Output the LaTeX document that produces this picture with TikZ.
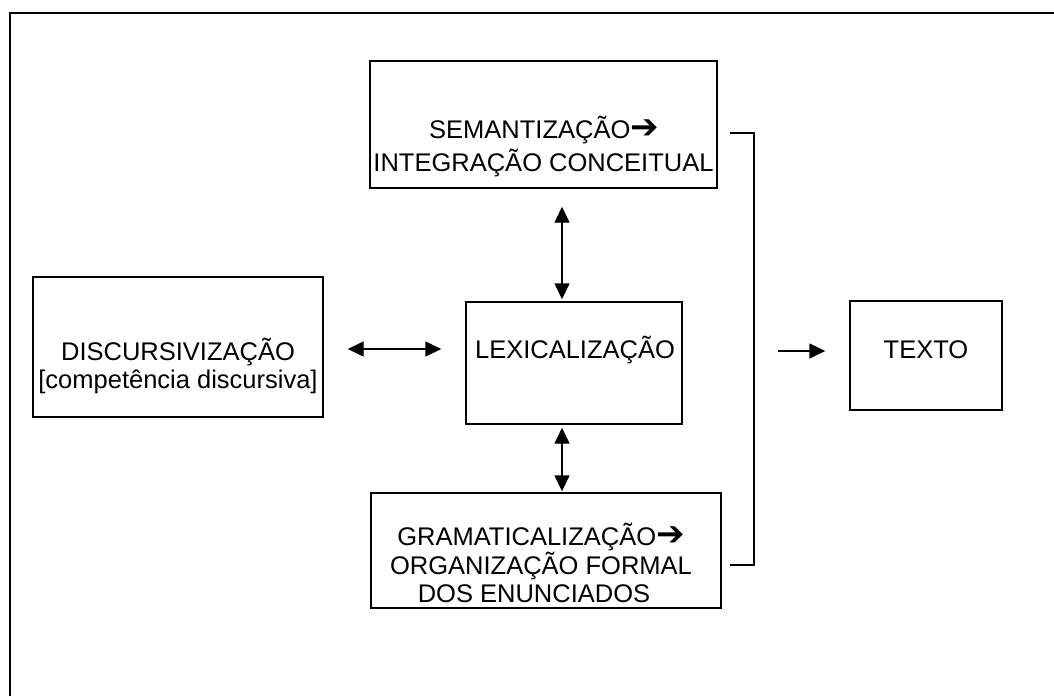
\documentclass[tikz,border=0pt]{standalone}
\usepackage{fontspec}
\setmainfont{Liberation Sans}
\newfontfamily\dvfont{DejaVu Sans}
\usetikzlibrary{arrows.meta}
\begin{document}
\begin{tikzpicture}[x=1pt,y=-1pt,
  box/.style={draw, line width=1.4pt, inner sep=0pt},
  txt/.style={inner sep=0pt, anchor=base, font=\fontsize{25.5}{30}\selectfont},
  arr/.style={line width=1.4pt, -{Triangle[length=16pt,width=15pt]}},
  darr/.style={line width=1.4pt, {Triangle[length=16pt,width=15pt]}-{Triangle[length=16pt,width=15pt]}},
  frame/.style={line width=2pt}]
\useasboundingbox (0,0) rectangle (1054,696);
\draw[frame] (10,696) -- (10,13) -- (1054,13);
% boxes
\node[box, minimum width=347pt, minimum height=127pt] (sem) at (543.5,124.5) {};
\node[box, minimum width=290pt, minimum height=140pt] (disc) at (178,347) {};
\node[box, minimum width=216pt, minimum height=122pt] (lex) at (574,363) {};
\node[box, minimum width=350pt, minimum height=115pt] (gram) at (546,550.5) {};
\node[box, minimum width=152pt, minimum height=109pt] (texto) at (926,355.5) {};
% texts
\node[txt] (sem1) at (544,138) {SEMANTIZAÇÃO{\dvfont\bfseries\fontsize{34}{30}\selectfont ➔}};
\node[txt] (sem2) at (543.5,171) {INTEGRAÇÃO CONCEITUAL};
\node[txt] (disc1) at (178,360) {DISCURSIVIZAÇÃO};
\node[txt] (disc2) at (178,388) {[competência discursiva]};
\node[txt] (lex1) at (575,358) {LEXICALIZAÇÃO};
\node[txt] (gram1) at (541,545) {GRAMATICALIZAÇÃO{\dvfont\bfseries\fontsize{34}{30}\selectfont ➔}};
\node[txt] (gram2) at (541,574) {ORGANIZAÇÃO FORMAL};
\node[txt] (gram3) at (534,602) {DOS ENUNCIADOS};
\node[txt] (texto1) at (926,358) {TEXTO};
% connectors
\draw[darr, shorten <=24pt, shorten >=24pt] (disc.east |- 0,349) -- (lex.west |- 0,349);
\draw[darr, shorten <=18pt, shorten >=2pt] (sem.south -| 562,0) -- (lex.north -| 562,0);
\draw[darr, shorten <=3pt, shorten >=1pt] (lex.south -| 562,0) -- (gram.north -| 562,0);
\coordinate (bt) at (730,133);
\coordinate (bb) at (730,565);
\draw[line width=1.4pt] (bt) -- (754,133) -- (754,565) -- (bb);
\coordinate (ta) at (778,351);
\draw[arr, shorten >=24pt] (ta) -- (texto.west |- ta);
\end{tikzpicture}
\end{document}
